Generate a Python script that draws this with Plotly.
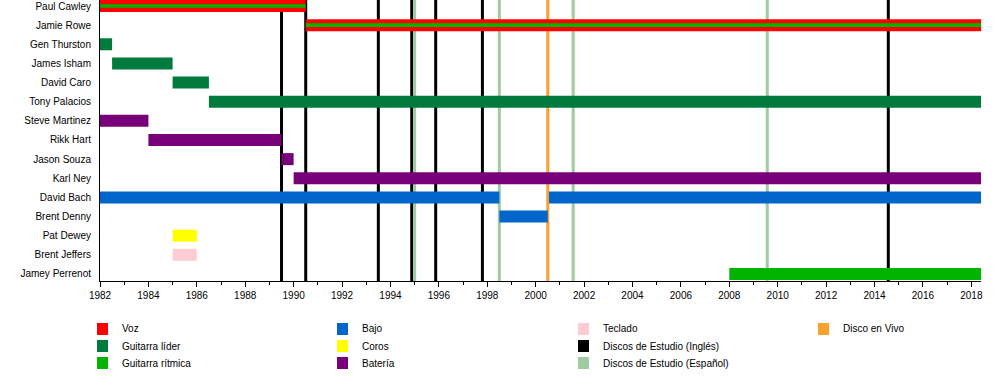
import plotly.graph_objects as go

# ---------------- data ----------------
members = ["Paul Cawley", "Jamie Rowe", "Gen Thurston", "James Isham", "David Caro",
           "Tony Palacios", "Steve Martinez", "Rikk Hart", "Jason Souza", "Karl Ney",
           "David Bach", "Brent Denny", "Pat Dewey", "Brent Jeffers", "Jamey Perrenot"]

END = 2018.4
bar_member = ["Paul Cawley", "Jamie Rowe", "Gen Thurston", "James Isham", "David Caro",
              "Tony Palacios", "Steve Martinez", "Rikk Hart", "Jason Souza", "Karl Ney",
              "David Bach", "David Bach", "Brent Denny", "Pat Dewey", "Brent Jeffers",
              "Jamey Perrenot"]
bar_start = [1982.0, 1990.5, 1982.0, 1982.5, 1985.0, 1986.5, 1982.0, 1984.0, 1989.5, 1990.0,
             1982.0, 2000.55, 1998.5, 1985.0, 1985.0, 2008.0]
bar_end = [1990.5, END, 1982.5, 1985.0, 1986.5, END, 1984.0, 1989.5, 1990.0, END,
           1998.5, END, 2000.5, 1986.0, 1986.0, END]
bar_role = ["Voz", "Voz", "Guitarra líder", "Guitarra líder", "Guitarra líder", "Guitarra líder",
            "Batería", "Batería", "Batería", "Batería", "Bajo", "Bajo", "Bajo", "Coros",
            "Teclado", "Guitarra rítmica"]

# secondary (thin stripe) roles
stripe_member = ["Paul Cawley", "Jamie Rowe"]
stripe_start = [1982.0, 1990.5]
stripe_end = [1990.5, END]
stripe_role = ["Guitarra rítmica", "Guitarra rítmica"]

albums_en = [1989.5, 1990.5, 1993.5, 1994.88, 1995.87, 1997.8, 2014.57]
albums_es = [1995.0, 1998.5, 2001.55, 2009.57]
albums_live = [2000.5]

legend_labels = ["Voz", "Guitarra líder", "Guitarra rítmica", "Bajo", "Coros", "Batería",
                 "Teclado", "Discos de Estudio (Inglés)", "Discos de Estudio (Español)",
                 "Disco en Vivo"]
legend_colors = ["#FF0000", "#007A3D", "#00B400", "#0066CC", "#FFFF00", "#780078",
                 "#FFCCD4", "#000000", "#A0CBA0", "#F7A12E"]
color_of = dict(zip(legend_labels, legend_colors))

# ---------------- layout constants ----------------
W, H = 1000, 380
L, R, T, B = 100, 19, 0, 99
plot_w = W - L - R
plot_h = H - T - B
ROW_PX = 19.14
FIRST_PX = 6
y_top = -FIRST_PX / ROW_PX
y_bot = (plot_h - FIRST_PX) / ROW_PX

idx = {m: i for i, m in enumerate(members)}

fig = go.Figure()

for m, s, e, r in zip(bar_member, bar_start, bar_end, bar_role):
    fig.add_trace(go.Bar(orientation="h", y=[idx[m]], x=[e - s], base=[s],
                         width=12 / ROW_PX, marker=dict(color=color_of[r], line=dict(width=0)),
                         showlegend=False, hoverinfo="skip"))
for m, s, e, r in zip(stripe_member, stripe_start, stripe_end, stripe_role):
    fig.add_trace(go.Bar(orientation="h", y=[idx[m]], x=[e - s], base=[s],
                         width=3.6 / ROW_PX, marker=dict(color=color_of[r], line=dict(width=0)),
                         showlegend=False, hoverinfo="skip"))

shapes = []
for xs, lab in [(albums_en, "Discos de Estudio (Inglés)"),
                (albums_es, "Discos de Estudio (Español)"),
                (albums_live, "Disco en Vivo")]:
    for xv in xs:
        shapes.append(dict(type="line", xref="x", yref="paper", x0=xv, x1=xv, y0=0, y1=1,
                           line=dict(color=color_of[lab], width=3), layer="below"))

# custom legend (4 columns x 3 rows, column-major)
def px_x(px):
    return (px - L) / plot_w

def px_y(py):
    return (T + plot_h - py) / plot_h

annotations = []
col_x = [97, 337, 578, 818]
row_y = [329, 346, 363]
for k, (lab, col) in enumerate(zip(legend_labels, legend_colors)):
    c, r = divmod(k, 3)
    x0 = col_x[c]
    yc = row_y[r]
    shapes.append(dict(type="rect", xref="paper", yref="paper",
                       x0=px_x(x0), x1=px_x(x0 + 11), y0=px_y(yc + 6), y1=px_y(yc - 6),
                       fillcolor=col, line=dict(width=0)))
    annotations.append(dict(xref="paper", yref="paper", x=px_x(x0 + 23), y=px_y(yc),
                            text=lab, showarrow=False, xanchor="left", yanchor="middle",
                            font=dict(family="Liberation Sans, Arial", size=10, color="#000")))

fig.update_layout(
    width=W, height=H,
    margin=dict(l=L, r=R, t=T, b=B, autoexpand=False),
    paper_bgcolor="white", plot_bgcolor="white",
    barmode="overlay",
    shapes=shapes, annotations=annotations,
    font=dict(family="Liberation Sans, Arial", size=10, color="#000"),
    xaxis=dict(range=[1982, END], dtick=2, tick0=1982, showgrid=False, zeroline=False,
               showline=True, linecolor="black", linewidth=1,
               ticks="outside", ticklen=5, tickcolor="black", tickwidth=1,
               minor=dict(dtick=1, ticks="outside", ticklen=3, tickcolor="black", showgrid=False),
               tickfont=dict(size=10, color="#000")),
    yaxis=dict(range=[y_bot, y_top], tickvals=list(range(len(members))), ticktext=members,
               showgrid=False, zeroline=False, showline=True, linecolor="black", linewidth=1,
               ticks="", ticklabelstandoff=6, tickfont=dict(size=10, color="#000")),
)

fig.write_html("out.html", config={"displayModeBar": False, "staticPlot": True},
               post_script="document.body.style.margin='0';document.body.style.overflow='hidden';")
